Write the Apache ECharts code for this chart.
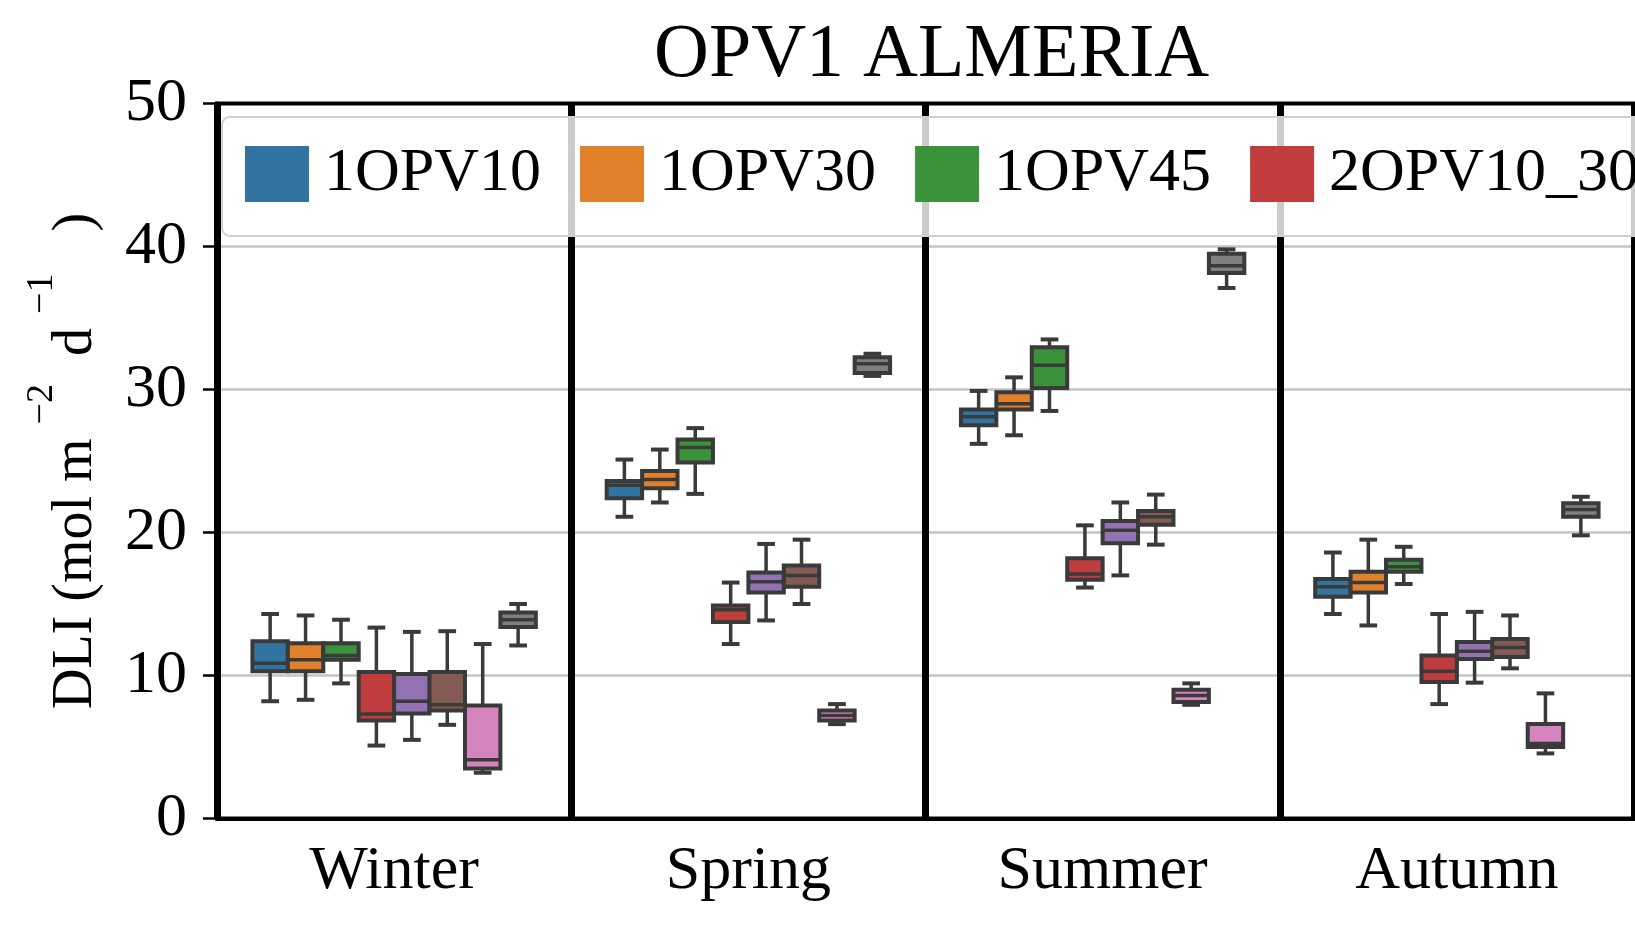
<!DOCTYPE html>
<html>
<head>
<meta charset="utf-8">
<script src="https://cdn.jsdelivr.net/npm/echarts@6/dist/echarts.min.js"></script>
<style>
html, body { margin: 0; padding: 0; background: #fff; }
#main { width: 1635px; height: 952px; }
</style>
</head>
<body>
<div id="main"></div>
<script>
var seasons = ['Winter', 'Spring', 'Summer', 'Autumn'];
var yTicks = [0, 10, 20, 30, 40, 50];
var groupNames = ['1OPV10', '1OPV30', '1OPV45', '2OPV10_30', '2OPV10_45', '2OPV30_45', '3OPV', 'Control'];
var groupColors = ['#3274a1', '#e1812c', '#3a923a', '#c03d3e', '#9372b2', '#845b53', '#d684bd', '#7f7f7f'];

// each season: [low whisker, q1, median, q3, high whisker]
var opv10 = [[8.2, 10.3, 10.85, 12.4, 14.3], [21.1, 22.4, 23.3, 23.6, 25.1], [26.2, 27.5, 28.1, 28.6, 29.9], [14.3, 15.5, 16.2, 16.75, 18.6]];
var opv30 = [[8.3, 10.3, 11.1, 12.25, 14.2], [22.1, 23.1, 23.7, 24.3, 25.8], [26.8, 28.6, 29.0, 29.8, 30.85], [13.5, 15.8, 16.5, 17.25, 19.5]];
var opv45 = [[9.45, 11.1, 11.4, 12.25, 13.9], [22.7, 24.9, 25.95, 26.5, 27.3], [28.5, 30.1, 31.7, 32.95, 33.5], [16.4, 17.25, 17.6, 18.1, 19.0]];
var opv10_30 = [[5.1, 6.85, 7.3, 10.25, 13.35], [12.2, 13.75, 14.6, 14.9, 16.5], [16.15, 16.7, 17.1, 18.2, 20.5], [8.0, 9.55, 10.3, 11.4, 14.3]];
var opv10_45 = [[5.5, 7.35, 8.2, 10.1, 13.05], [13.85, 15.8, 16.55, 17.2, 19.2], [17.0, 19.25, 20.15, 20.8, 22.1], [9.5, 11.15, 11.7, 12.35, 14.45]];
var opv30_45 = [[6.55, 7.55, 7.95, 10.25, 13.1], [15.0, 16.2, 17.0, 17.7, 19.5], [19.15, 20.55, 21.1, 21.5, 22.65], [10.5, 11.3, 11.95, 12.55, 14.2]];
var opv3 = [[3.2, 3.5, 4.1, 7.9, 12.2], [6.6, 6.85, 7.2, 7.55, 8.0], [7.95, 8.15, 8.6, 9.0, 9.45], [4.55, 5.0, 5.25, 6.6, 8.75]];
var control = [[12.1, 13.4, 13.9, 14.4, 15.0], [30.95, 31.15, 31.8, 32.25, 32.5], [37.1, 38.15, 38.65, 39.5, 39.8], [19.8, 21.1, 21.6, 22.05, 22.5]];
var groupData = [opv10, opv30, opv45, opv10_30, opv10_45, opv30_45, opv3, control];

var edge = '#3a3a3a';
var serif = 'Liberation Serif';

// seaborn-like box: boxes side by side in 80% of the band, caps half width
function renderBox(params, api) {
    var n = groupNames.length;
    var cat = api.value(0);
    var w = api.size([1, 0])[0] * 0.8 / n;
    var cx = api.coord([cat, 0])[0] + (params.seriesIndex - (n - 1) / 2) * w;
    var yLo = api.coord([cat, api.value(1)])[1];
    var yQ1 = api.coord([cat, api.value(2)])[1];
    var yMed = api.coord([cat, api.value(3)])[1];
    var yQ3 = api.coord([cat, api.value(4)])[1];
    var yHi = api.coord([cat, api.value(5)])[1];
    var ln = { stroke: edge, lineWidth: 3.5 };
    var cap = w / 4;
    return {
        type: 'group',
        children: [
            { type: 'line', shape: { x1: cx, y1: yLo, x2: cx, y2: yQ1 }, style: ln },
            { type: 'line', shape: { x1: cx, y1: yQ3, x2: cx, y2: yHi }, style: ln },
            { type: 'line', shape: { x1: cx - cap, y1: yLo, x2: cx + cap, y2: yLo }, style: { stroke: edge, lineWidth: 4 } },
            { type: 'line', shape: { x1: cx - cap, y1: yHi, x2: cx + cap, y2: yHi }, style: { stroke: edge, lineWidth: 4 } },
            { type: 'rect', shape: { x: cx - w / 2, y: yQ3, width: w, height: yQ1 - yQ3 },
              style: { fill: api.visual('color'), stroke: edge, lineWidth: 4 } },
            { type: 'line', shape: { x1: cx - w / 2, y1: yMed, x2: cx + w / 2, y2: yMed }, style: { stroke: edge, lineWidth: 3.5 } }
        ]
    };
}

var seriesList = [];
for (var i = 0; i < groupNames.length; i++) {
    var rows = [];
    for (var j = 0; j < seasons.length; j++) {
        rows.push([j].concat(groupData[i][j]));
    }
    seriesList.push({
        name: groupNames[i],
        type: 'custom',
        renderItem: renderBox,
        itemStyle: { color: groupColors[i] },
        encode: { x: 0, y: [1, 2, 3, 4, 5] },
        data: rows
    });
}

var myChart = echarts.init(document.getElementById('main'));
var option = {
    animation: false,
    title: {
        text: 'OPV1 ALMERIA',
        left: 649,
        top: 13,
        textStyle: { fontFamily: serif, fontSize: 76, fontWeight: 'normal', color: '#000' }
    },
    legend: {
        data: groupNames,
        left: 222,
        top: 117,
        width: 4000,
        icon: 'rect',
        itemWidth: 64,
        itemHeight: 56,
        itemGap: 39,
        padding: [26, 20, 31, 23],
        backgroundColor: 'rgba(255,255,255,0.8)',
        borderColor: '#d0d0d0',
        borderWidth: 2,
        borderRadius: 8,
        textStyle: { fontFamily: serif, fontSize: 62, color: '#000', padding: [0, 0, 0, 10] }
    },
    grid: {
        left: 217,
        right: 1,
        top: 103.5,
        bottom: 133.5,
        show: true,
        borderColor: '#000',
        borderWidth: 4
    },
    xAxis: {
        type: 'category',
        data: seasons,
        boundaryGap: true,
        axisLine: { lineStyle: { color: '#000', width: 4 } },
        axisTick: { alignWithLabel: true, length: 13, lineStyle: { color: '#000', width: 2.5 } },
        axisLabel: { fontFamily: serif, fontSize: 62, color: '#000', margin: 22 },
        splitLine: { show: true, lineStyle: { color: '#000', width: 7 } }
    },
    yAxis: {
        type: 'value',
        min: yTicks[0],
        max: yTicks[yTicks.length - 1],
        interval: yTicks[1] - yTicks[0],
        name: 'DLI (mol m {s|−2}  d {s|−1}   )',
        nameLocation: 'middle',
        nameRotate: 90,
        nameGap: 88,
        nameTextStyle: {
            fontFamily: serif, fontSize: 56, color: '#000',
            rich: { s: { fontFamily: serif, fontSize: 38, color: '#000', padding: [0, 0, 68, 0] } }
        },
        axisLine: { show: true, lineStyle: { color: '#000', width: 4 } },
        axisTick: { show: true, length: 14, lineStyle: { color: '#000', width: 2.5 } },
        axisLabel: { fontFamily: serif, fontSize: 62, color: '#000', margin: 30 },
        splitLine: { showMaxLine: false, lineStyle: { color: '#c4c4c4', width: 2.5 } }
    },
    series: seriesList
};
myChart.setOption(option);
</script>
</body>
</html>
